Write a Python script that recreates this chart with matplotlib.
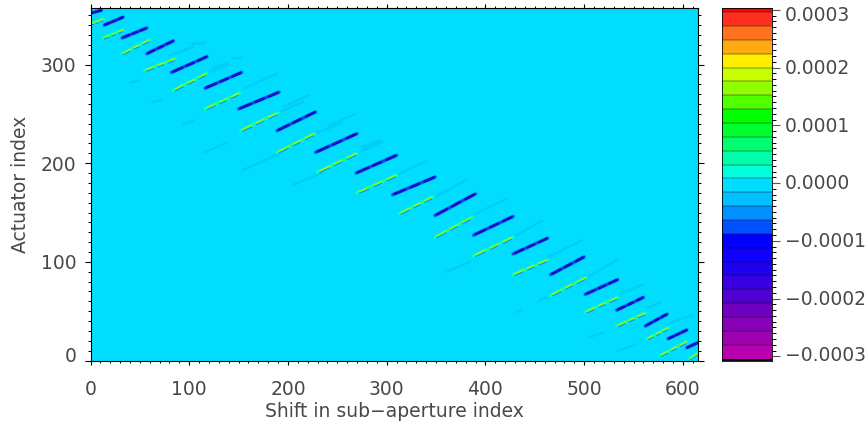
import numpy as np
from matplotlib import pyplot as plt
from matplotlib.colors import BoundaryNorm, ListedColormap
from matplotlib.transforms import ScaledTranslation

# streaks: x0, y0, x1, y1 in data units
blue_streaks = [
    (0, 352, 11, 355), (14, 340, 33, 348), (32, 327, 57, 337), (57, 311, 84, 324),
    (82, 292, 118, 308), (116, 276, 153, 292), (150, 255, 191, 272), (189, 233, 228, 252),
    (228, 211, 270, 230), (269, 190, 310, 208), (306, 168, 349, 186), (349, 147, 390, 169),
    (388, 127, 428, 146), (428, 108, 463, 124), (466, 87, 500, 105), (501, 67, 534, 82),
    (533, 51, 560, 64), (562, 35, 584, 47), (585, 22, 604, 31), (604, 13, 615, 18),
]
yellow_streaks = [
    (0, 341, 13, 346), (13, 327, 33, 335), (32, 311, 60, 325), (55, 294, 86, 306),
    (84, 274, 118, 291), (116, 255, 151, 271), (152, 233, 190, 251), (189, 211, 227, 230),
    (230, 191, 270, 210), (270, 170, 310, 188), (313, 149, 347, 166), (349, 125, 386, 145),
    (388, 106, 428, 125), (428, 87, 463, 102), (466, 66, 502, 84), (501, 49, 534, 64),
    (533, 35, 562, 48), (564, 22, 585, 33), (577, 5, 604, 19), (607, 2, 615, 7),
]
faint_streaks = [
    (103, 321, 116, 322), (80, 309, 104, 318), (124, 296, 139, 302), (144, 306, 153, 307),
    (156, 276, 189, 291), (195, 257, 222, 269), (241, 238, 268, 250), (275, 216, 293, 223),
    (154, 193, 192, 210), (205, 178, 236, 191), (40, 282, 50, 284), (62, 262, 72, 264),
    (116, 211, 138, 221), (94, 240, 104, 243), (347, 165, 381, 183), (390, 149, 422, 164),
    (428, 125, 458, 142), (462, 104, 498, 122), (503, 84, 533, 102), (536, 68, 560, 77),
    (564, 53, 577, 59), (587, 38, 610, 46), (361, 90, 384, 100), (432, 49, 437, 51),
    (455, 61, 462, 64), (506, 24, 519, 28), (534, 10, 552, 16), (310, 188, 340, 202),
    (190, 251, 215, 262), (118, 291, 140, 300), (227, 230, 255, 241), (270, 210, 296, 222),
]
# stretches of a streak (as fractions of its length) that are stronger than the rest
strong_parts = [(0.05, 0.3), (0.42, 0.62), (0.75, 0.97)]

# colour bar bands, bottom to top
band_edges = [-0.000304 + 0.000024 * k for k in range(27)]
band_colors = [
    '#b800b0', '#a000b0', '#8800b8', '#7000c0', '#5000d0', '#3800e0', '#2000f0', '#1000ff',
    '#0000ff', '#0050ff', '#0090ff', '#00c0ff', '#00ddff', '#00ffdd', '#00ffaa', '#00ff70',
    '#00ff30', '#00ff00', '#50ff00', '#90ff00', '#c8ff00', '#ffee00', '#ffaa10', '#ff7020',
    '#ff3020', '#ff0000',
]
bar_ticks = [-0.0003, -0.0002, -0.0001, 0.0, 0.0001, 0.0002, 0.0003]
bar_labels = ['\u22120.0003', '\u22120.0002', '\u22120.0001', '0.0000', '0.0001', '0.0002', '0.0003']

W, H = 867, 421
plt.rcParams['font.family'] = 'DejaVu Sans'
plt.rcParams['font.size'] = 13.5
text_color = '#484848'


def axes_box(left, top, right, bottom):
    return [left / W, 1 - bottom / H, (right - left) / W, (bottom - top) / H]


def draw_streaks(ax, streaks, layers):
    for x0, y0, x1, y1 in streaks:
        for color, width, dy in layers:
            ax.plot([x0, x1], [y0 + dy, y1 + dy], color=color, lw=width, solid_capstyle='round')


def draw_parts(ax, streaks, color, width, dy=0):
    for x0, y0, x1, y1 in streaks:
        for a, b in strong_parts:
            ax.plot([x0 + a * (x1 - x0), x0 + b * (x1 - x0)],
                    [y0 + a * (y1 - y0) + dy, y0 + b * (y1 - y0) + dy],
                    color=color, lw=width, solid_capstyle='round')


def shift_label(label, fig, dy_px):
    label.set_transform(label.get_transform() + ScaledTranslation(0, dy_px / 100, fig.dpi_scale_trans))


fig = plt.figure(figsize=(W / 100, H / 100), dpi=100)
ax = fig.add_axes(axes_box(90.5, 8.3, 697.7, 360.5))
ax.set_facecolor('#00ddff')
ax.set_xlim(0, 615)
ax.set_ylim(0, 357)

draw_streaks(ax, faint_streaks, [('#00ccf8', 1.6, 0)])
draw_streaks(ax, yellow_streaks, [('#00ffd8', 2.6, 0), ('#20f890', 1.5, 0)])
draw_parts(ax, yellow_streaks, '#0090e8', 0.7, -1.6)
draw_parts(ax, yellow_streaks, '#b8f000', 0.9, 0.2)
draw_streaks(ax, blue_streaks, [('#00a8ff', 2.9, 0), ('#0050f0', 2.0, 0)])
draw_parts(ax, blue_streaks, '#1810c0', 1.9)

ax.set_xticks(range(0, 601, 100))
ax.set_yticks(range(0, 301, 100))
ax.set_xticks(range(0, 616, 10), minor=True)
ax.set_yticks(range(0, 351, 10), minor=True)
ax.tick_params(which='major', axis='x', direction='out', length=3, width=0.8, top=True, pad=11,
               labelcolor=text_color)
ax.tick_params(which='minor', axis='x', direction='out', length=1.5, width=0.7, top=True)
ax.tick_params(which='major', axis='y', direction='out', length=4.2, width=0.8, right=True, pad=6,
               labelcolor=text_color)
ax.tick_params(which='minor', axis='y', length=2.4, width=0.7, right=True, direction='out')
shift_label(ax.get_yticklabels()[0], fig, 6)
ax.set_xlabel('Shift in sub\u2212aperture index', color=text_color)
ax.xaxis.set_label_coords(0.5, -0.118)
ax.set_ylabel('Actuator index', color=text_color)
ax.yaxis.set_label_coords(-0.1, 0.5)

cax = fig.add_axes(axes_box(722.3, 8, 771.7, 361))
cmap = ListedColormap(band_colors)
cmap.set_under('black')
norm = BoundaryNorm(band_edges, cmap.N)
bar_y = np.array([-0.00032] + band_edges)
bar_v = np.array([-0.00031] + [(a + b) / 2 for a, b in zip(band_edges, band_edges[1:])])
cax.pcolormesh([0, 1], bar_y, bar_v[:, None], cmap=cmap, norm=norm)
cax.hlines(band_edges[1:-1], 0, 1, color='black', alpha=0.25, lw=1.2)
cax.set_xlim(0, 1)
cax.set_ylim(-0.000308, 0.000303)
cax.set_xticks([])
cax.yaxis.tick_right()
cax.set_yticks(bar_ticks, bar_labels)
cax.set_yticks(np.arange(-30, 31) * 1e-5, minor=True)
cax.tick_params(which='major', axis='y', length=5.8, width=0.8, color='#555555', pad=3.8,
                labelcolor=text_color)
cax.tick_params(which='minor', axis='y', length=2.6, width=0.7)
for label, dy in zip(cax.get_yticklabels(), [3, 1, 1, 2, 1, 1, -4]):
    shift_label(label, fig, dy)
for spine in cax.spines.values():
    spine.set_linewidth(0.6)

fig.savefig('out.png', dpi=100)
